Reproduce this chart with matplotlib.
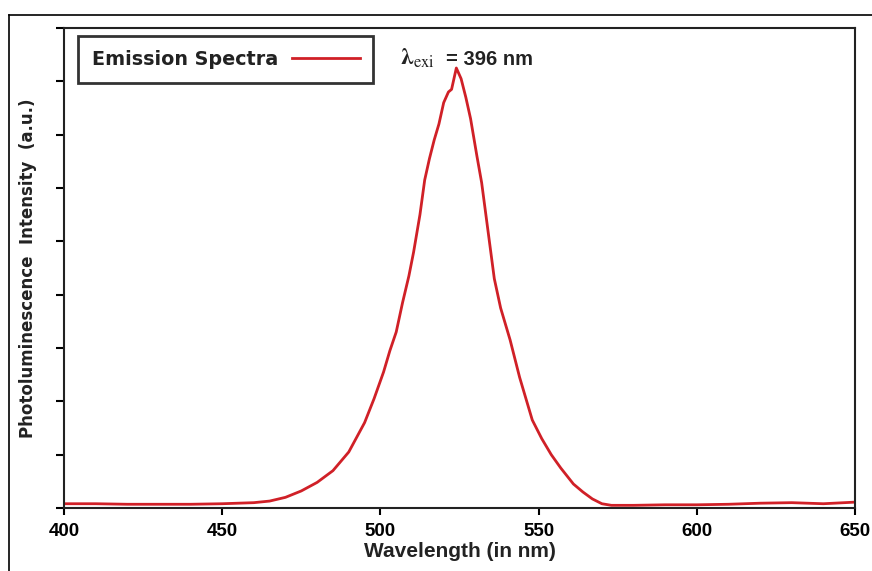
import matplotlib.pyplot as plt
from matplotlib.lines import Line2D

plt.rcParams['font.family'] = ['Liberation Sans', 'DejaVu Sans']
plt.rcParams['mathtext.fontset'] = 'stix'

# emission spectrum
wavelength = [400, 410, 420, 430, 440, 450, 455, 460, 465, 470, 475, 480, 485, 490,
              495, 498, 501, 503, 505, 507, 509, 510.5, 512.5, 514, 515.5, 517, 518.5,
              520, 521.5, 522.5, 524, 525.5, 527, 528.5, 530.5, 532, 534, 536, 538,
              541, 544, 548, 551, 554, 557, 561, 564, 567, 570, 573, 580, 590, 600,
              610, 620, 630, 640, 650]
intensity = [0.08, 0.08, 0.07, 0.07, 0.07, 0.08, 0.09, 0.1, 0.13, 0.2, 0.32, 0.48, 0.7, 1.05,
             1.6, 2.05, 2.55, 2.95, 3.3, 3.85, 4.35, 4.8, 5.5, 6.15, 6.55, 6.9, 7.2,
             7.6, 7.8, 7.85, 8.25, 8.05, 7.7, 7.3, 6.6, 6.1, 5.2, 4.3, 3.75,
             3.15, 2.45, 1.65, 1.3, 1.0, 0.75, 0.45, 0.3, 0.17, 0.08, 0.05, 0.05, 0.06, 0.06,
             0.07, 0.09, 0.1, 0.08, 0.11]

xticks = [400, 450, 500, 550, 600, 650]
line_color = '#d02027'

fig = plt.figure(figsize=(8.72, 5.71), dpi=100)
ax = fig.add_axes([64 / 872, 63 / 571, 791 / 872, 480 / 571])

ax.plot(wavelength, intensity, color=line_color, lw=2, label='Emission Spectra')

ax.set_xlim(400, 650)
ax.set_ylim(0, 9)
ax.set_xticks(xticks)
ax.set_yticks(range(10))
ax.set_yticklabels([])
for lab in ax.get_xticklabels():
    lab.set_fontweight('bold')
ax.tick_params(axis='x', direction='out', length=5, width=1.5, labelsize=13.5, pad=6)
ax.tick_params(axis='y', direction='out', length=6, width=1.5)
for s in ax.spines.values():
    s.set_linewidth(1.5)
    s.set_color('#222222')

ax.set_xlabel('Wavelength (in nm)', fontsize=15, fontweight='bold', labelpad=1, color='#222222')
ax.set_ylabel('Photoluminescence  Intensity  (a.u.)', fontsize=12, fontweight='bold',
              family='DejaVu Sans', labelpad=10, color='#222222')

leg = ax.legend(loc='upper left', bbox_to_anchor=(14 / 791, 472 / 480), markerfirst=False,
                fancybox=False, frameon=True, handlelength=3.5, handletextpad=0.75,
                borderpad=0.72, borderaxespad=0,
                prop={'weight': 'bold', 'size': 13.8, 'family': 'DejaVu Sans'})
leg.get_frame().set_edgecolor('black')
leg.get_frame().set_linewidth(2)
for t in leg.get_texts():
    t.set_color('#222222')

# excitation wavelength note
ax.text((400 - 64) / 791, 0.923, r'$\mathbf{\lambda}_{\mathrm{exi}}$', transform=ax.transAxes,
        fontsize=17, va='baseline', ha='left', color='#222222')
ax.text((446 - 64) / 791, 0.923, '= 396 nm', transform=ax.transAxes,
        fontsize=14.5, fontweight='bold', va='baseline', ha='left', color='#222222')

# outer frame lines (top and left)
fig.add_artist(Line2D([9 / 872, 9 / 872], [0, 556 / 571], color='black', lw=1.2))
fig.add_artist(Line2D([9 / 872, 1], [556 / 571, 556 / 571], color='black', lw=1.2))

fig.savefig('out.png', dpi=100)
